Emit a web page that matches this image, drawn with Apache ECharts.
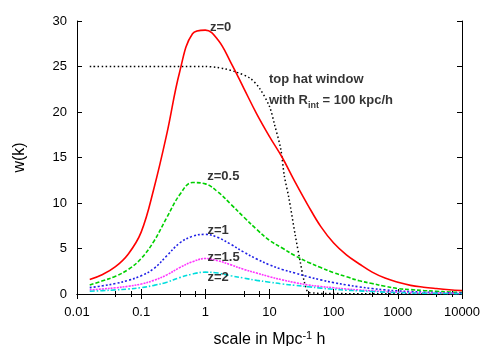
<!DOCTYPE html>
<html>
<head>
<meta charset="utf-8">
<script src="https://cdn.jsdelivr.net/npm/echarts@6/dist/echarts.min.js"></script>
<style>
  html, body { margin: 0; padding: 0; background: #fff; }
  #main { width: 491px; height: 346px; }
</style>
</head>
<body>
<div id="main"></div>
<script>
const kVals = [0.0158, 0.0251, 0.0398, 0.0631, 0.1, 0.158, 0.251, 0.398, 0.631, 1,
               1.58, 2.51, 3.98, 6.31, 10, 15.8, 25.1, 39.8, 63.1, 100,
               158, 251, 398, 631, 1000, 1585, 2512, 3981, 6310, 10000];

const wZ0  = [1.6, 2.15, 3.0, 4.4, 6.8, 11.6, 17.6, 24.4, 28.6, 29.0,
              27.9, 25.4, 22.6, 19.8, 17.3, 15.0, 12.3, 9.75, 7.4, 5.6,
              4.3, 3.3, 2.4, 1.75, 1.3, 0.95, 0.75, 0.6, 0.47, 0.37];
const wZ05 = [1.0, 1.45, 1.95, 2.7, 3.9, 5.8, 8.4, 10.9, 12.25, 12.1,
              11.2, 9.85, 8.45, 7.1, 5.9, 5.05, 4.2, 3.5, 2.9, 2.35,
              1.9, 1.45, 1.15, 0.85, 0.6, 0.48, 0.38, 0.3, 0.22, 0.15];
const wZ1  = [0.7, 0.9, 1.15, 1.5, 2.0, 2.8, 4.2, 5.6, 6.35, 6.55,
              6.2, 5.45, 4.6, 3.85, 3.2, 2.7, 2.3, 1.9, 1.55, 1.25,
              1.0, 0.78, 0.6, 0.45, 0.34, 0.27, 0.2, 0.16, 0.12, 0.1];
const wZ15 = [0.45, 0.55, 0.68, 0.85, 1.1, 1.5, 2.1, 2.9, 3.55, 3.9,
              3.65, 3.2, 2.7, 2.3, 1.9, 1.55, 1.25, 1.0, 0.82, 0.68,
              0.55, 0.44, 0.35, 0.27, 0.2, 0.16, 0.12, 0.09, 0.07, 0.05];
const wZ2  = [0.3, 0.37, 0.45, 0.55, 0.7, 0.95, 1.3, 1.8, 2.2, 2.4,
              2.3, 2.0, 1.75, 1.5, 1.3, 1.1, 0.95, 0.8, 0.65, 0.52,
              0.42, 0.34, 0.27, 0.21, 0.16, 0.12, 0.09, 0.07, 0.05, 0.03];

// top hat window, R_int = 100 kpc/h
const hatK = [0.0158, 0.1, 1, 1.5, 2, 3, 5, 7, 10, 12, 15, 17, 20, 25, 30, 35, 40, 50, 70, 100, 300, 1000, 3000, 10000];
const hatW = [25, 25, 25, 24.9, 24.75, 24.4, 23.7, 22.6, 20.6, 18.6, 15.9, 13.0, 10.6, 6.6, 3.6, 1.3, 0.2, 0.1, 0.05, 0.05, 0.02, 0.02, 0.01, 0.01];

// text annotations
const noteText = ['z=0', 'z=0.5', 'z=1', 'z=1.5', 'z=2', 'top hat window', 'with R{sub|int} = 100 kpc/h'];
const noteK    = [1.18, 1.07, 1.08, 1.08, 1.08, 9.8, 9.8];
const noteW    = [29.3, 12.9, 7.0, 4.0, 1.8, 23.6, 21.3];

const xTicks = [0.01, 0.1, 1, 10, 100, 1000, 10000];

function pairs(xs, ys) {
  return xs.map((x, i) => [x, ys[i]]);
}

const font = 'Liberation Sans, Arial, sans-serif';

var myChart = echarts.init(document.getElementById('main'));

function curve(name, ys, color, dash) {
  return {
    name: name,
    type: 'line',
    data: pairs(kVals, ys),
    showSymbol: false,
    smooth: 0.4,
    lineStyle: { color: color, width: 1.6, type: dash },
    z: 3
  };
}

const xAxisBase = {
  type: 'log',
  logBase: 10,
  min: xTicks[0],
  max: xTicks[xTicks.length - 1],
  axisLine: { show: true, lineStyle: { color: '#000', width: 1 } },
  axisTick: { show: true, inside: true, length: 5, lineStyle: { color: '#000' } },
  minorTick: { show: true, splitNumber: 3, length: 3, lineStyle: { color: '#000' } },
  splitLine: { show: false },
};

myChart.setOption({
  animation: false,
  backgroundColor: '#fff',
  grid: { left: 77, right: 29, top: 21, bottom: 52, outerBoundsMode: 'none' },
  xAxis: [
    Object.assign({}, xAxisBase, {
      position: 'bottom',
      name: 'scale in Mpc{sup|-1} h',
      nameLocation: 'middle',
      nameGap: 36,
      nameTextStyle: {
        fontFamily: font, fontSize: 16, color: '#000',
        rich: { sup: { fontFamily: font, fontSize: 11, color: '#000', padding: [0, 0, 9, 0] } }
      },
      axisLabel: {
        margin: 12,
        fontFamily: font, fontSize: 13, color: '#000',
        formatter: function (v) { return String(Number(v.toPrecision(6))); }
      }
    }),
    Object.assign({}, xAxisBase, {
      position: 'top',
      axisLabel: { show: false }
    })
  ],
  yAxis: [
    {
      type: 'value',
      min: 0, max: 30, interval: 5,
      position: 'left',
      name: 'w(k)',
      nameLocation: 'middle',
      nameGap: 49,
      nameTextStyle: { fontFamily: font, fontSize: 16, color: '#000' },
      axisLine: { show: true, lineStyle: { color: '#000', width: 1 } },
      axisTick: { show: true, inside: true, length: 5, lineStyle: { color: '#000' } },
      axisLabel: { margin: 10, fontFamily: font, fontSize: 13, color: '#000' },
      splitLine: { show: false }
    },
    {
      type: 'value',
      min: 0, max: 30, interval: 5,
      position: 'right',
      axisLine: { show: true, lineStyle: { color: '#000', width: 1 } },
      axisTick: { show: true, inside: true, length: 5, lineStyle: { color: '#000' } },
      axisLabel: { show: false },
      splitLine: { show: false }
    }
  ],
  series: [
    {
      name: 'top hat',
      type: 'line',
      data: pairs(hatK, hatW),
      showSymbol: false,
      smooth: 0.3,
      lineStyle: { color: '#000', width: 1.5, type: [1.5, 2.5] },
      z: 2
    },
    curve('z=0', wZ0, '#ff0000', 'solid'),
    curve('z=0.5', wZ05, '#00d000', [4, 2]),
    curve('z=1', wZ1, '#1f1fe6', [2, 2]),
    curve('z=1.5', wZ15, '#ff33ff', [2, 1]),
    curve('z=2', wZ2, '#00dddd', [5, 2, 1.5, 2]),
    {
      name: 'notes',
      type: 'scatter',
      symbolSize: 0,
      silent: true,
      data: noteText.map((t, i) => ({ name: t, value: [noteK[i], noteW[i]] })),
      label: {
        show: true,
        position: 'right',
        distance: 0,
        formatter: function (p) { return p.name; },
        fontFamily: font,
        fontSize: 13,
        fontWeight: 'bold',
        color: '#000',
        rich: {
          sub: { fontFamily: font, fontSize: 9, fontWeight: 'bold', color: '#000', padding: [10, 0, 0, 0] }
        }
      },
      z: 5
    }
  ]
});
</script>
</body>
</html>
